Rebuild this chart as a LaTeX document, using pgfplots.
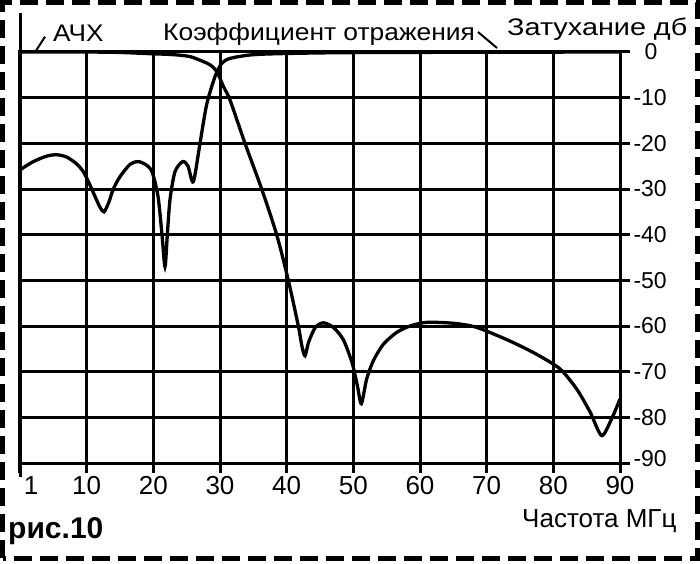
\documentclass[border=0pt]{standalone}
\usepackage{fontspec}
\setmainfont{Liberation Sans}
\usepackage{pgfplots}
\pgfplotsset{compat=1.18}

% АЧХ (frequency response), dB vs MHz
\def\achx{
(0,0) (5,0) (10,0) (15,-0.1) (20,-0.4) (22,-0.5) (24,-0.7) (25.5,-1.0)
(26.5,-1.5) (27.5,-2.1) (28.5,-2.8) (29.5,-4.2) (30.5,-7.5) (31.5,-10.5)
(33.75,-20) (36.25,-30) (38.5,-40) (40.25,-50) (41.75,-60) (42.3,-64.5)
(42.75,-66.5) (43.3,-63.5) (44.3,-60.3) (45.5,-59.3) (47,-60.3) (48.5,-63)
(49.8,-68) (50.6,-73) (51.2,-77) (52,-71.6) (53,-67.6) (54.5,-64) (56.5,-61.4)
(58.5,-60) (61,-59.2) (65,-59.4) (68.5,-60.3) (73.5,-63.3) (77.5,-66.2)
(81,-69.4) (83.5,-73.8) (85.5,-78.8) (87.25,-84) (88.75,-80.3) (90,-76)
}
% reflection coefficient
\def\refl{
(0,-25.8) (2,-24) (4,-22.8) (5.5,-22.5) (7,-23) (8.5,-24.5) (9.5,-26.2)
(10.3,-28.5) (11,-30.8) (12,-34) (12.6,-35) (13.3,-33) (14,-30) (15,-27.3)
(16.5,-24.6) (17.7,-24) (18.8,-24.6) (19.8,-26.2) (20.7,-31.6) (21.3,-40)
(21.75,-47) (22.1,-40) (22.5,-32.3) (23.25,-26.2) (24.4,-24) (25.2,-25)
(26,-28.4) (27,-20) (28,-11.5) (29.25,-5.4) (30.25,-2.5) (31.5,-1.4)
(34.5,-0.65) (38,-0.4) (45,-0.2) (55,-0.1) (90,0)
}

\begin{document}
\begin{tikzpicture}
\useasboundingbox (0pt,0pt) rectangle (700pt,563pt);
\draw[line width=5pt, dash pattern=on 18pt off 8pt] (2.5pt,5pt) rectangle (697pt,560pt);
\begin{axis}[
  at={(20pt,100pt)}, anchor=south west,
  scale only axis, width=600pt, height=411pt,
  xmin=0, xmax=90, ymin=-90, ymax=0,
  xtick={0,10,...,90},
  xticklabels={{\hspace*{22pt}1},10,20,30,40,50,60,70,80,90},
  ytick={-90,-80,...,0},
  yticklabels={{\raisebox{10pt}{-90}},-80,-70,-60,-50,-40,-30,-20,-10,{\hspace*{11pt}0}},
  xtick pos=left, ytick pos=right, yticklabel pos=right,
  tick align=outside, major tick length=10pt,
  grid=major,
  major grid style={line width=3pt, black},
  tick style={line width=3pt, black},
  axis line style={line width=3pt},
  xticklabel style={font=\fontsize{26}{30}\selectfont},
  yticklabel style={font=\fontsize{23}{27}\selectfont, anchor=west},
  /pgf/number format/assume math mode=true,
  clip=false,
]
\addplot[line width=3.3pt, smooth, tension=0.45] coordinates {\achx};
\addplot[line width=3.3pt, smooth, tension=0.45] coordinates {\refl};
\end{axis}
\draw[line width=3pt] (20pt,86pt) -- (20pt,550pt);
\node[anchor=base west, inner sep=0pt, font=\fontsize{24}{28}\selectfont] at (53pt,521pt) {\scalebox{1.09}[1]{АЧХ}};
\draw[line width=2pt] (35pt,510.7pt) -- (45pt,526.3pt);
\node[anchor=base west, inner sep=0pt, font=\fontsize{24}{28}\selectfont] at (163pt,522.3pt) {\scalebox{1.1}[1]{Коэффициент отражения}};
\draw[line width=2pt] (478pt,531pt) -- (497pt,515pt);
\node[anchor=base west, inner sep=0pt, font=\fontsize{24}{28}\selectfont] at (507pt,527pt) {\scalebox{1.2}[1]{Затухание дб}};
\node[anchor=base west, inner sep=0pt, font=\fontsize{26}{30}\selectfont] at (522pt,36pt) {Частота МГц};
\node[anchor=base west, inner sep=0pt, font=\fontsize{30}{34}\selectfont\bfseries] at (8pt,25pt) {рис.10};
\end{tikzpicture}
\end{document}
